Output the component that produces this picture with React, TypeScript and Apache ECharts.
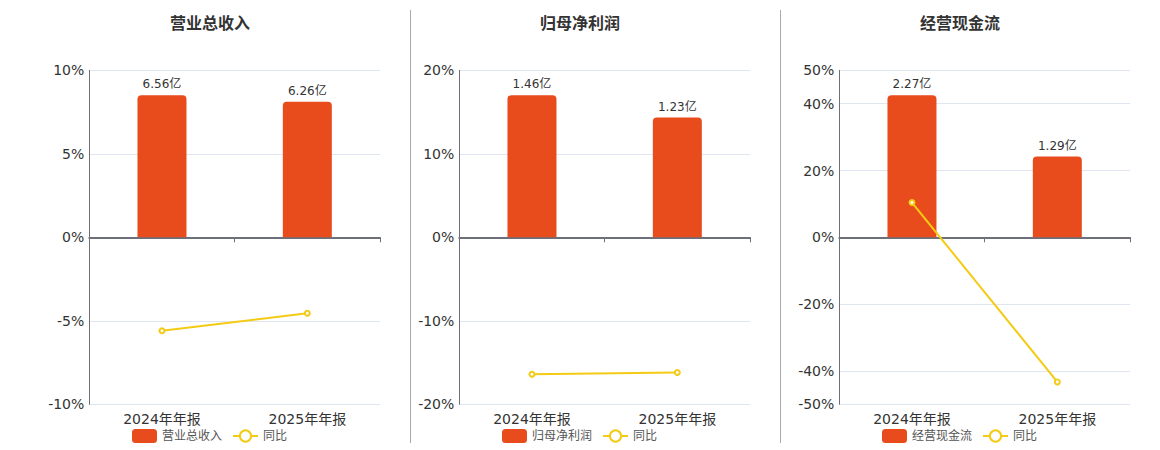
import React, { useEffect, useRef } from "react";
import * as echarts from "echarts";

const categories = ["2024年年报", "2025年年报"];
const panelTitles = ["营业总收入", "归母净利润", "经营现金流"];
const barValues = [
  [6.56, 6.26],
  [1.46, 1.23],
  [2.27, 1.29],
];
const yoyValues = [
  [-5.6, -4.55],
  [-16.4, -16.2],
  [10.4, -43.3],
];
const pctMin = [-10, -20, -50];
const pctMax = [10, 20, 50];
const pctInterval: (number | undefined)[] = [5, 10, undefined];
const yoyName = "同比";

const FONT = "'DejaVu Sans', 'Noto Sans CJK SC', sans-serif";
const BAR_COLOR = "#E84B1C";
const LINE_COLOR = "#F4CB14";
const AXIS_COLOR = "#6E7079";

export default function App() {
  const ref = useRef<HTMLDivElement>(null);
  useEffect(() => {
    document.body.style.margin = "0";
    if (!ref.current) return;
    const chart = echarts.init(ref.current, undefined, { renderer: "svg" });
    const gridLefts = [89.3, 459.3, 839.3];
    const centers = [210, 580, 960];
    const legendLefts = [132, 502, 882];
    const grid: any[] = [];
    const xAxis: any[] = [];
    const yAxis: any[] = [];
    const series: any[] = [];
    const legend: any[] = [];
    const graphic: any[] = [];
    for (let p = 0; p < 3; p++) {
      grid.push({ left: gridLefts[p], top: 70.3, width: 290.7, height: 334 });
      xAxis.push({
        type: "category",
        gridIndex: p,
        data: categories,
        axisLine: { show: true, onZero: true, lineStyle: { color: AXIS_COLOR, width: 2 } },
        axisTick: { show: true, length: 5, lineStyle: { color: AXIS_COLOR } },
        axisLabel: { show: false },
        splitLine: { show: false },
      });
      xAxis.push({
        type: "category",
        gridIndex: p,
        data: categories,
        position: "bottom",
        axisLine: { show: false, onZero: false },
        axisTick: { show: false },
        axisLabel: { show: true, fontSize: 14, color: "#333", fontFamily: FONT, margin: 8 },
        splitLine: { show: false },
      });
      yAxis.push({
        type: "value",
        gridIndex: p,
        min: pctMin[p],
        max: pctMax[p],
        interval: pctInterval[p],
        axisLine: { show: true, lineStyle: { color: AXIS_COLOR, width: 1 } },
        axisTick: { show: false },
        axisLabel: { formatter: "{value}%", fontSize: 14, color: "#333", fontFamily: FONT, margin: 5 },
        splitLine: { show: true, lineStyle: { color: "#E0E6F1" } },
      });
      const m = Math.max(...barValues[p]) / 0.851;
      yAxis.push({ type: "value", gridIndex: p, min: -m, max: m, show: false, splitLine: { show: false } });
      series.push({
        type: "bar",
        name: panelTitles[p],
        xAxisIndex: 2 * p,
        yAxisIndex: 2 * p + 1,
        data: barValues[p],
        barWidth: 49,
        itemStyle: { color: BAR_COLOR, borderRadius: [4, 4, 0, 0] },
        label: {
          show: true,
          position: "top",
          distance: 5,
          formatter: "{c}亿",
          fontSize: 12,
          color: "#333",
          fontFamily: FONT,
        },
      });
      series.push({
        type: "line",
        name: yoyName,
        xAxisIndex: 2 * p,
        yAxisIndex: 2 * p,
        data: yoyValues[p],
        symbol: "emptyCircle",
        symbolSize: 5,
        lineStyle: { color: LINE_COLOR, width: 2 },
        itemStyle: { color: LINE_COLOR, borderWidth: 1.5 },
        z: 5,
      });
      legend.push({
        data: [panelTitles[p], yoyName],
        left: legendLefts[p],
        top: 429,
        padding: 0,
        itemWidth: 25,
        itemHeight: 14,
        itemGap: 10,
        textStyle: { fontSize: 12, color: "#555", fontFamily: FONT },
        selectedMode: false,
      });
      graphic.push({
        type: "text",
        x: centers[p],
        y: 23,
        style: {
          text: panelTitles[p],
          textAlign: "center",
          textVerticalAlign: "middle",
          fontSize: 16,
          fontWeight: "bold",
          fontFamily: FONT,
          fill: "#333",
        },
      });
    }
    [410.5, 780.5].forEach((x) => {
      graphic.push({
        type: "line",
        shape: { x1: x, y1: 10, x2: x, y2: 443 },
        style: { stroke: "#AAAAAA", lineWidth: 1 },
      });
    });
    chart.setOption({
      animation: false,
      grid,
      xAxis,
      yAxis,
      series,
      legend,
      graphic,
    });
    return () => chart.dispose();
  }, []);
  return <div ref={ref} style={{ width: 1160, height: 450 }} />;
}
